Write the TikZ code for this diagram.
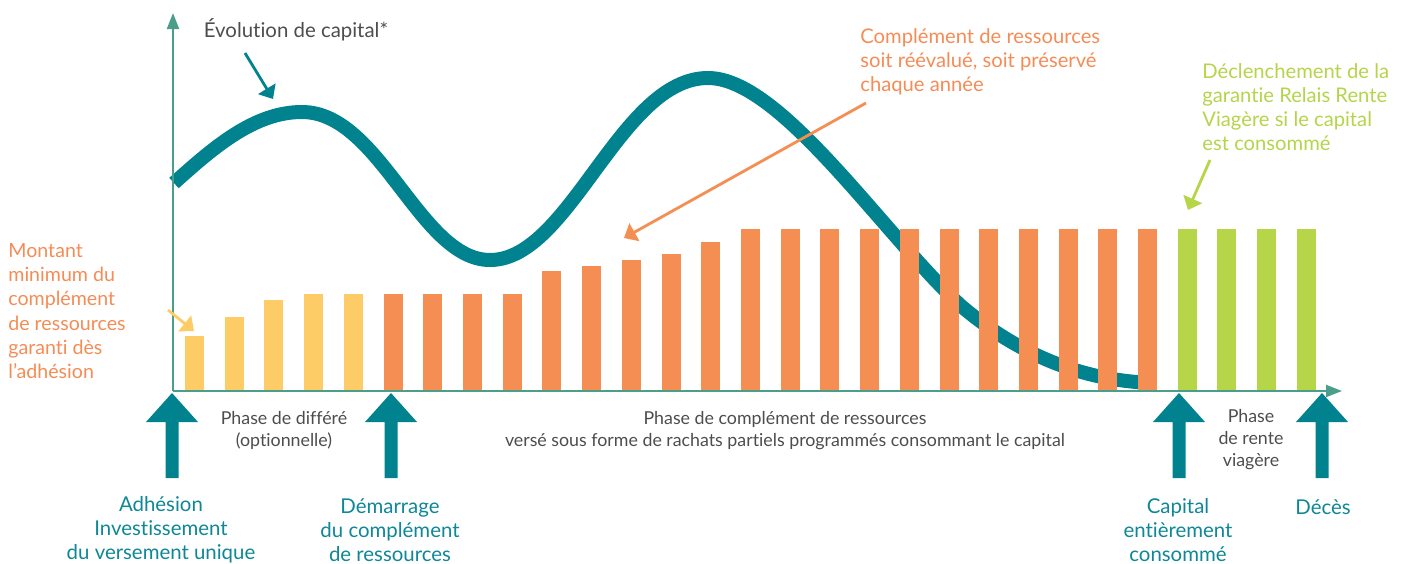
\documentclass[tikz,border=0pt]{standalone}
\usepackage{fontspec}
\setmainfont{Lato}[Ligatures={TeX,NoCommon}]
\usetikzlibrary{arrows.meta}
\definecolor{capteal}{HTML}{00838F}
\definecolor{labteal}{HTML}{0E8797}
\definecolor{barorange}{HTML}{F58E52}
\definecolor{baryellow}{HTML}{FDCC66}
\definecolor{bargreen}{HTML}{B6D548}
\definecolor{axiscol}{HTML}{4A9E8A}
\definecolor{txtgray}{HTML}{4D4D4D}
\definecolor{txtorange}{HTML}{F58C55}
\definecolor{txtgreen}{HTML}{B5D44A}
\begin{document}
\begin{tikzpicture}[x=0.5pt,y=-0.5pt,
  axis/.style={draw=axiscol,line width=1pt},
  capcurve/.style={draw=capteal,line width=7pt},
  pointer/.style={line width=1.4pt,-{Triangle[length=6pt,width=10pt]}},
  eventlabel/.style={text=labteal,align=center,inner sep=0pt,font=\fontsize{10.2}{12}\selectfont},
  phaselabel/.style={text=txtgray,align=center,inner sep=0pt,font=\fontsize{8.9}{11}\selectfont},
  notelabel/.style={align=left,inner sep=0pt,anchor=west,font=\fontsize{10.1}{12.1}\selectfont},
  bigup/.pic={\fill[capteal] (0,0) -- (26,29) -- (6.5,29) -- (6.5,85) -- (-6.5,85) -- (-6.5,29) -- (-26,29) -- cycle;}
]
\useasboundingbox (0,0) rectangle (1408,563);

% capital curve (behind bars)
\draw[capcurve] (174,183) .. controls (215,146) and (255,112) .. (302,112)
  .. controls (380,112) and (420,260) .. (490,260)
  .. controls (570,260) and (620,78) .. (708,78)
  .. controls (780,78) and (880,230) .. (960,305)
  .. controls (1030,365) and (1100,382) .. (1156,383);

% bars
\foreach \t [count=\i from 0] in {336,317,300,294,294}
  \fill[baryellow] ({185+39.71*\i},391) rectangle ++(19,{\t-391});
\foreach \t [count=\i from 5] in {294,294,294,294,271,266,260,254,242,229,229,229,229,229,229,229,229,229,229,229}
  \fill[barorange] ({185+39.71*\i},391) rectangle ++(19,{\t-391});
\foreach \i in {25,...,28}
  \fill[bargreen] ({185+39.71*\i},391) rectangle ++(19,-162);

% axes
\coordinate (origin) at (173,391);
\coordinate (xend) at (1342,391);
\coordinate (yend) at (173,13);
\draw[axis,-{Triangle[length=8pt,width=6pt]}] (origin) -- (xend);
\draw[axis,-{Triangle[length=8pt,width=6pt]}] (origin) -- (yend);

% big event arrows
\pic at (172,393) {bigup};
\pic at (391,393) {bigup};
\pic at (1179,393) {bigup};
\pic at (1322,393) {bigup};

% event labels
\node[eventlabel] (adh) at (161,530) {Adhésion\\Investissement\\du versement unique};
\node[eventlabel] (dem) at (390,530) {Démarrage\\du complément\\de ressources};
\node[eventlabel] (capc) at (1178,530) {Capital\\entièrement\\consommé};
\node[eventlabel] (dec) at (1323,507) {Décès};

% phase labels
\node[phaselabel] (ph1) at (284,430) {Phase de différé\\(optionnelle)};
\node[phaselabel] (ph2) at (785,431) {Phase de complément de ressources\\versé sous forme de rachats partiels programmés consommant le capital};
\node[phaselabel] (ph3) at (1251,440) {Phase\\de rente\\viagère};

% notes
\node[text=txtgray,inner sep=0pt,font=\fontsize{10.2}{12}\selectfont] (evo) at (296,30) {Évolution de capital*};
\node[notelabel,text=txtorange] (comp) at (860,62) {Complément de ressources\\soit réévalué, soit préservé\\chaque année};
\node[notelabel,text=txtgreen] (decl) at (1202,107) {Déclenchement de la\\garantie Relais Rente\\Viagère si le capital\\est consommé};
\node[notelabel,text=txtorange,font=\fontsize{9.8}{12.1}\selectfont] (mont) at (8,311) {Montant\\minimum du\\complément\\de ressources\\garanti dès\\l’adhésion};

% pointers
\coordinate (evoS) at (245,53);
\coordinate (evoT) at (273,99);
\draw[pointer,capteal] (evoS) -- (evoT);
\coordinate (compS) at (866,103);
\coordinate (compT) at (624,238);
\draw[pointer,barorange] (compS) -- (compT);
\coordinate (declS) at (1210,160);
\coordinate (declT) at (1188,210);
\draw[pointer,bargreen] (declS) -- (declT);
\coordinate (montS) at (168,310);
\coordinate (montT) at (194,331);
\draw[pointer,baryellow] (montS) -- (montT);
\end{tikzpicture}
\end{document}
